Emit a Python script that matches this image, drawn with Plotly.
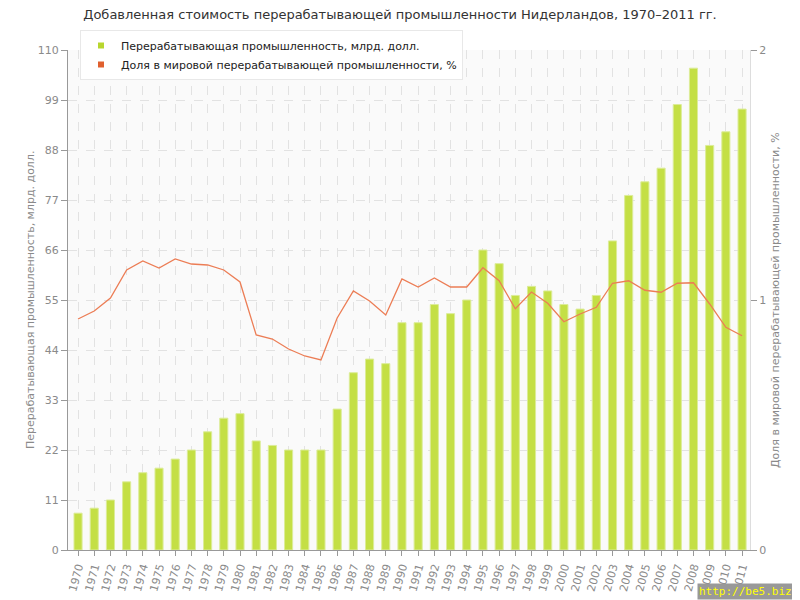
import plotly.graph_objects as go

years = [str(y) for y in range(1970, 2012)]
value_added = [8.1, 9.2, 11, 15, 17, 18, 20, 22, 26, 29, 30, 24, 23, 22, 22, 22, 31, 39, 42, 41,
               50, 50, 54, 52, 55, 66, 63, 56, 58, 57, 54, 53, 56, 68, 78, 81, 84, 98, 106, 89, 92, 97]
world_share = [0.924, 0.956, 1.008, 1.12, 1.156, 1.128, 1.164, 1.144, 1.14, 1.12, 1.072, 0.86, 0.844,
               0.804, 0.776, 0.76, 0.928, 1.036, 0.996, 0.94, 1.084, 1.052, 1.088, 1.052, 1.052, 1.129,
               1.077, 0.965, 1.032, 0.987, 0.913, 0.944, 0.971, 1.067, 1.077, 1.039, 1.031, 1.067,
               1.069, 0.984, 0.891, 0.857]

title_text = "Добавленная стоимость перерабатывающей промышленности Нидерландов, 1970–2011 гг."
bar_name = "Перерабатывающая промышленность, млрд. долл."
line_name = "Доля в мировой перерабатывающей промышленности, %"

FONT = "DejaVu Sans, Verdana, sans-serif"
GRAY = "#8a8a8a"
BAR_COLOR = "#c4df45"
LINE_COLOR = "#ec7d55"

# The page body has an 8px default margin; the figure is sized to fill the rest.
W, H = 792, 592
ML, MR, MT, MB = 60, 50, 42, 50
PW, PH = W - ML - MR, H - MT - MB

fig = go.Figure()
fig.add_trace(go.Bar(
    x=years, y=value_added, name=bar_name, width=0.5, showlegend=False,
    marker=dict(color=BAR_COLOR, line=dict(color="#dcec98", width=1)),
    yaxis="y",
))
fig.add_trace(go.Scatter(
    x=years, y=world_share, name=line_name, mode="lines", showlegend=False,
    line=dict(color=LINE_COLOR, width=1.3), yaxis="y2",
))
# legend entries with square markers
fig.add_trace(go.Scatter(x=[None], y=[None], mode="markers", name=bar_name,
                         marker=dict(symbol="square", size=6, color="#b8d62e")))
fig.add_trace(go.Scatter(x=[None], y=[None], mode="markers", name=line_name,
                         marker=dict(symbol="square", size=6, color="#e0602e")))

fig.update_layout(
    width=W, height=H,
    margin=dict(l=ML, r=MR, t=MT, b=MB),
    paper_bgcolor="white", plot_bgcolor="#fafafa",
    font=dict(family=FONT, size=11, color=GRAY),
    title=dict(text=title_text, x=(400 - 8) / W, xanchor="center",
               y=1 - 2 / H, yanchor="top",
               font=dict(family=FONT, size=13, color="#333333")),
    showlegend=True,
    legend=dict(x=12 / PW, y=1 + 20 / PH, xanchor="left", yanchor="top",
                bgcolor="white", bordercolor="#e8e8e8", borderwidth=1,
                font=dict(family=FONT, size=11, color="#222222"),
                itemwidth=30, tracegroupgap=0),
    xaxis=dict(
        type="category", range=[-0.62, 41.49], automargin=False,
        showgrid=True, gridcolor="#e2e2e2", griddash="dash", gridwidth=1,
        tickangle=-75, ticks="outside", ticklen=5, tickcolor="#999999",
        showline=True, linecolor="#999999", linewidth=1,
        tickfont=dict(family=FONT, size=11, color=GRAY),
        layer="above traces",
    ),
    yaxis=dict(
        range=[0, 110], dtick=11, tick0=0, automargin=False,
        showgrid=True, gridcolor="#e2e2e2", griddash="dash", gridwidth=1,
        ticks="outside", ticklen=6, tickcolor="#999999",
        showline=True, linecolor="#999999", linewidth=1,
        zeroline=False,
        tickfont=dict(family=FONT, size=11, color=GRAY),
    ),
    yaxis2=dict(
        range=[0, 2], dtick=1, overlaying="y", side="right", automargin=False,
        showgrid=False, zeroline=False,
        ticks="outside", ticklen=6, tickcolor="#999999",
        showline=True, linecolor="#dddddd", linewidth=1,
        tickfont=dict(family=FONT, size=11, color=GRAY),
    ),
    bargap=0.5,
)

# axis titles
fig.add_annotation(text=bar_name, xref="paper", yref="paper",
                   x=(30 - 8 - ML) / PW, y=0.5, textangle=-90, showarrow=False,
                   xanchor="center", yanchor="middle",
                   font=dict(family=FONT, size=11, color=GRAY))
fig.add_annotation(text=line_name, xref="paper", yref="paper",
                   x=(775 - 8 - ML) / PW, y=0.5, textangle=-90, showarrow=False,
                   xanchor="center", yanchor="middle",
                   font=dict(family=FONT, size=11, color=GRAY))

fig.add_annotation(
    text="http://be5.biz/", xref="paper", yref="paper", x=(W - ML) / PW, y=-MB / PH,
    xanchor="right", yanchor="bottom", showarrow=False,
    font=dict(family="DejaVu Sans Mono, monospace", size=11, color="#ffff00"),
    bgcolor="#999999", borderpad=1,
)

fig.write_html("out.html")
